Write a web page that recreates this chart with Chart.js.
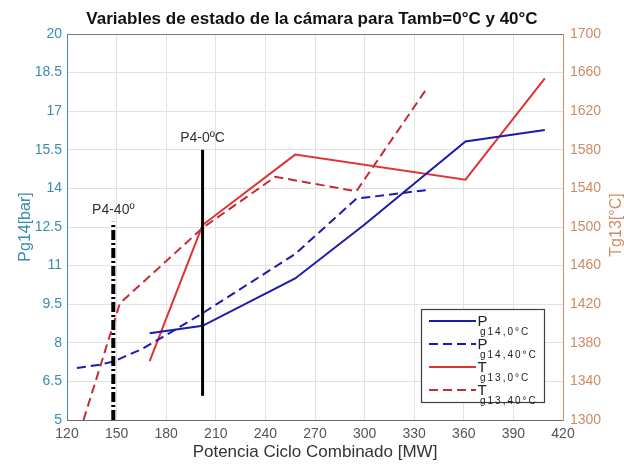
<!DOCTYPE html>
<html>
<head>
<meta charset="utf-8">
<script src="https://cdn.jsdelivr.net/npm/chart.js@4.4.1/dist/chart.umd.min.js"></script>
<style>
  html, body { margin: 0; padding: 0; background: #ffffff; }
  #wrap { width: 624px; height: 465px; }
</style>
</head>
<body>
<div id="wrap"><canvas id="c" width="624" height="465"></canvas></div>
<script>
// Axis tick values
const xTicks = [120, 150, 180, 210, 240, 270, 300, 330, 360, 390, 420];
const pTicks = [5, 6.5, 8, 9.5, 11, 12.5, 14, 15.5, 17, 18.5, 20];
const tTicks = [1300, 1340, 1380, 1420, 1460, 1500, 1540, 1580, 1620, 1660, 1700];

// Combustion chamber pressure Pg14 [bar] vs combined-cycle power [MW]
const pColdMW  = [170, 202, 258, 300, 361, 409];
const pColdBar = [8.37, 8.66, 10.5, 12.6, 15.82, 16.27];
const pHotMW   = [126, 140, 148, 165, 180, 202, 258, 295, 338];
const pHotBar  = [7.02, 7.15, 7.27, 7.75, 8.3, 9.15, 11.45, 13.6, 13.94];

// Combustion chamber temperature Tg13 [ºC] vs combined-cycle power [MW]
const tColdMW  = [170, 202, 258, 361, 409];
const tColdDeg = [1361, 1502, 1575, 1549, 1654];
const tHotMW   = [130, 152, 202, 246, 295, 337];
const tHotDeg  = [1300, 1421, 1499, 1552, 1537, 1642];

// P4 operating-point markers
const markerNames  = ['P4-0ºC', 'P4-40º'];
const markerMW     = [202, 148];
const markerBottom = [5.94, 5];
const markerTop    = [15.5, 12.7];

// Legend text (main symbol + subscript)
const legendMain = ['P', 'P', 'T', 'T'];
const legendSub  = ['g14,0°C', 'g14,40°C', 'g13,0°C', 'g13,40°C'];

const BLUE = 'rgb(28, 28, 172)';
const RED = 'rgb(222, 52, 52)';
const RED_DARK = 'rgb(196, 44, 56)';
const TEAL = 'rgb(58, 140, 176)';
const TAN = 'rgb(205, 140, 100)';
const GRID = 'rgb(226, 226, 226)';
const FONT = "'Liberation Sans', Arial, Helvetica, sans-serif";

const pts = (xs, ys) => xs.map((x, i) => ({ x: x, y: ys[i] }));
const plain = v => String(v);

const lineBase = { pointRadius: 0, borderWidth: 2, tension: 0, fill: false, order: 2 };

const datasets = [
  Object.assign({}, lineBase, { data: pts(pColdMW, pColdBar), yAxisID: 'yP', borderColor: BLUE }),
  Object.assign({}, lineBase, { data: pts(pHotMW, pHotBar), yAxisID: 'yP', borderColor: BLUE, borderDash: [9, 5] }),
  Object.assign({}, lineBase, { data: pts(tColdMW, tColdDeg), yAxisID: 'yT', borderColor: RED }),
  Object.assign({}, lineBase, { data: pts(tHotMW, tHotDeg), yAxisID: 'yT', borderColor: RED_DARK, borderDash: [9, 5] }),
  { data: [{ x: markerMW[0], y: markerBottom[0] }, { x: markerMW[0], y: markerTop[0] }],
    yAxisID: 'yP', borderColor: '#000', borderWidth: 3, pointRadius: 0, order: 0 },
  { data: [{ x: markerMW[1], y: markerBottom[1] }, { x: markerMW[1], y: markerTop[1] }],
    yAxisID: 'yP', borderColor: '#000', borderWidth: 4, borderDash: [10, 3, 2, 3], pointRadius: 0, order: 0 }
];
const legendStyles = [
  { color: BLUE, dash: [] },
  { color: BLUE, dash: [9, 5] },
  { color: RED, dash: [] },
  { color: RED_DARK, dash: [9, 5] }
];

// Box, marker labels, legend with subscripts and right axis title
const decorations = {
  id: 'decorations',
  afterDraw(chart) {
    const ctx = chart.ctx;
    const a = chart.chartArea;
    const sx = chart.scales.x, sp = chart.scales.yP;

    ctx.save();
    // top edge of the axes box
    ctx.strokeStyle = '#7a7a7a';
    ctx.lineWidth = 1;
    ctx.beginPath();
    ctx.moveTo(a.left, a.top + 0.5);
    ctx.lineTo(a.right, a.top + 0.5);
    ctx.stroke();

    // marker labels above each P4 line
    ctx.fillStyle = '#333';
    ctx.font = '14px ' + FONT;
    ctx.textAlign = 'center';
    ctx.textBaseline = 'alphabetic';
    markerNames.forEach((name, i) => {
      const px = sx.getPixelForValue(markerMW[i]);
      const py = sp.getPixelForValue(markerTop[i]);
      ctx.fillText(name, px, py - 8);
    });

    // legend
    const bw = 123, bh = 93;
    const bx = a.right - 19 - bw, by = a.bottom - 18 - bh;
    ctx.fillStyle = '#fff';
    ctx.fillRect(bx, by, bw, bh);
    ctx.strokeStyle = '#404040';
    ctx.lineWidth = 1.2;
    ctx.strokeRect(bx + 0.5, by + 0.5, bw, bh);
    legendStyles.forEach((st, i) => {
      const ly = by + 12 + i * 23;
      ctx.strokeStyle = st.color;
      ctx.lineWidth = 2;
      ctx.setLineDash(st.dash);
      ctx.beginPath();
      ctx.moveTo(bx + 8, ly);
      ctx.lineTo(bx + 55, ly);
      ctx.stroke();
      ctx.setLineDash([]);
      ctx.fillStyle = '#222';
      ctx.textAlign = 'left';
      ctx.font = '15px ' + FONT;
      ctx.fillText(legendMain[i], bx + 56.5, ly + 4.5);
      ctx.font = '10px ' + FONT;
      ctx.letterSpacing = '2px';
      ctx.fillText(legendSub[i], bx + 59, ly + 13.5);
      ctx.letterSpacing = '0px';
    });

    // right axis title, reading bottom-to-top
    const st = chart.scales.yT;
    ctx.translate(st.right - 7, (a.top + a.bottom) / 2 - 2);
    ctx.rotate(-Math.PI / 2);
    ctx.fillStyle = TAN;
    ctx.font = '16px ' + FONT;
    ctx.textAlign = 'center';
    ctx.textBaseline = 'middle';
    ctx.fillText('Tg13[°C]', 0, 0);
    ctx.restore();
  }
};

new Chart(document.getElementById('c'), {
  type: 'line',
  data: { datasets: datasets },
  plugins: [decorations],
  options: {
    responsive: false,
    animation: false,
    layout: { padding: 0 },
    plugins: {
      legend: { display: false },
      tooltip: { enabled: false },
      title: {
        display: true,
        text: 'Variables de estado de la cámara para Tamb=0°C y 40°C',
        color: '#111',
        font: { family: FONT, size: 17, weight: 'bold' },
        padding: { top: 9, bottom: 4.6 }
      }
    },
    scales: {
      x: {
        type: 'linear', position: 'bottom', min: 120, max: 420,
        afterBuildTicks: s => { s.ticks = xTicks.map(v => ({ value: v })); },
        afterFit: s => { s.height = 45; },
        grid: { color: GRID, drawTicks: false },
        border: { color: '#6e6e6e', width: 1 },
        ticks: { padding: 6, color: '#555', font: { family: FONT, size: 14 }, maxRotation: 0, autoSkip: false, callback: plain },
        title: { display: true, text: 'Potencia Ciclo Combinado [MW]', color: '#333',
                 font: { family: FONT, size: 17 }, padding: { top: 0, bottom: 2 } }
      },
      yP: {
        type: 'linear', position: 'left', min: 5, max: 20,
        afterBuildTicks: s => { s.ticks = pTicks.map(v => ({ value: v })); },
        afterFit: s => { s.width = 67; },
        grid: { color: GRID, drawTicks: false },
        border: { color: TEAL, width: 1 },
        ticks: { padding: 5, color: TEAL, font: { family: FONT, size: 14 }, autoSkip: false, callback: plain },
        title: { display: true, text: 'Pg14[bar]', color: TEAL,
                 font: { family: FONT, size: 16 }, padding: { top: 16, bottom: 0 } }
      },
      yT: {
        type: 'linear', position: 'right', min: 1300, max: 1700,
        afterBuildTicks: s => { s.ticks = tTicks.map(v => ({ value: v })); },
        afterFit: s => { s.width = 61; },
        grid: { drawOnChartArea: false, drawTicks: false },
        border: { color: TAN, width: 1 },
        ticks: { padding: 7, color: TAN, font: { family: FONT, size: 14 }, autoSkip: false, callback: plain }
      }
    }
  }
});
</script>
</body>
</html>
